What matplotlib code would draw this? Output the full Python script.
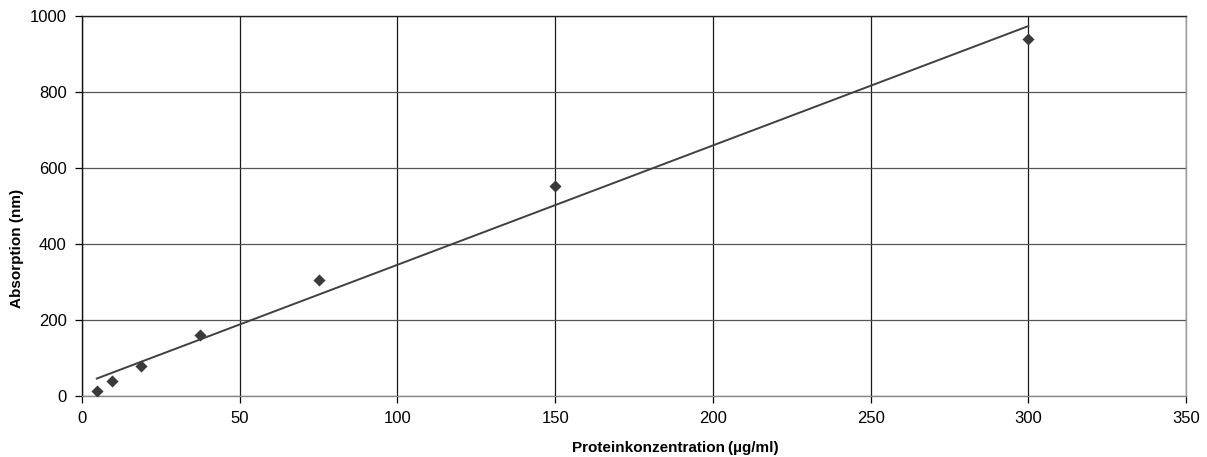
import numpy as np
import matplotlib
matplotlib.use("Agg")
import matplotlib.pyplot as plt

plt.rcParams['font.family'] = ['Liberation Sans', 'DejaVu Sans']

conc = [4.6875, 9.375, 18.75, 37.5, 75, 150, 300]
absorption = [13, 39, 79, 160, 305, 553, 939]
x_ticks = [0, 50, 100, 150, 200, 250, 300, 350]
y_ticks = [0, 200, 400, 600, 800, 1000]

fig = plt.figure(figsize=(12.07, 4.57), dpi=100)
ax = fig.add_axes([82/1207, 1-396/457, (1186-82)/1207, (396-16)/457])

slope, intercept = np.polyfit(conc, absorption, 1)
xs = np.array([min(conc), max(conc)])
ax.plot(xs, slope*xs + intercept, color='#404040', lw=1.4, zorder=3)
ax.scatter(conc, absorption, marker='D', s=38, color='#3a3a3a', zorder=4, linewidths=0)

ax.set_xlim(0, 350)
ax.set_ylim(0, 1000)
ax.set_xticks(x_ticks)
ax.set_yticks(y_ticks)
ax.xaxis.grid(True, color='#1a1a1a', lw=0.9)
ax.yaxis.grid(True, color='#555555', lw=0.9)
ax.set_axisbelow(True)
ax.spines['top'].set_color('#222222')
ax.spines['right'].set_color('#999999')
ax.spines['bottom'].set_color('#888888')
ax.spines['left'].set_color('#111111')
for sp in ax.spines.values():
    sp.set_linewidth(1.0)
ax.tick_params(axis='both', direction='out', length=5, labelsize=12, colors='#000000', width=0.9)
ax.tick_params(axis='y', pad=6)
ax.tick_params(axis='x', pad=6)
ax.set_xlabel('Proteinkonzentration\u2009(µg/ml)', fontsize=11, fontweight='bold')
ax.set_ylabel('Absorption (nm)', fontsize=11, fontweight='bold')
# label positions in pixel terms relative to axes
ax.xaxis.set_label_coords((675-82)/1104, -(448-396)/380, transform=ax.transAxes)
ax.xaxis.label.set_va('center')
ax.yaxis.set_label_coords(-(82-17)/1104, (396-248)/380, transform=ax.transAxes)
ax.yaxis.label.set_va('center')

fig.savefig('out.png', dpi=100)
